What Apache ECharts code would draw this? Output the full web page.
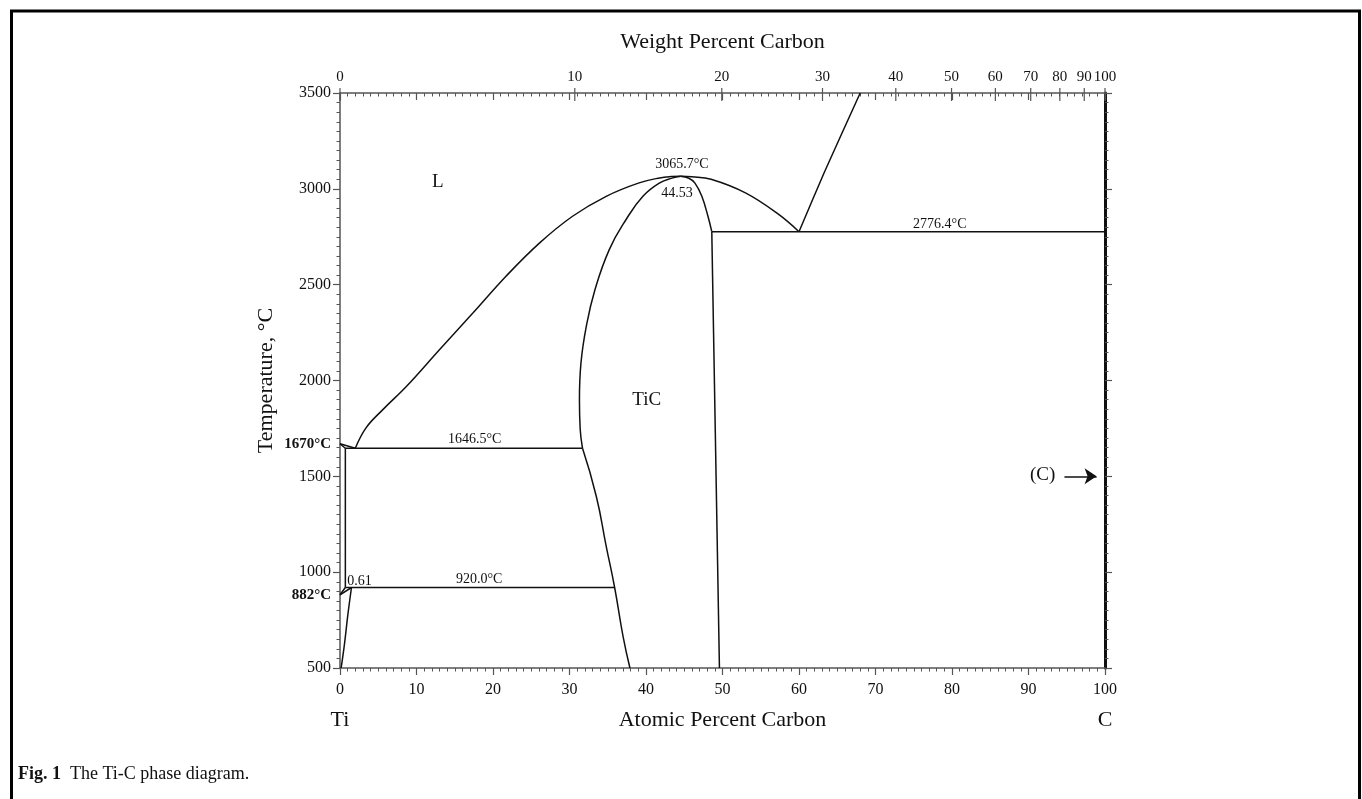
<!DOCTYPE html>
<html>
<head>
<meta charset="utf-8">
<script src="https://cdn.jsdelivr.net/npm/echarts@6/dist/echarts.min.js"></script>
<style>
html,body{margin:0;padding:0;background:#ffffff;}
#chart{width:1362px;height:799px;}
</style>
</head>
<body>
<div id="chart"></div>
<script>
// ---------- axes ----------
const atomicRange = [0, 100];          // atomic percent carbon (bottom & top scale)
const tempRange = [500, 3500];         // temperature, °C
const tempInterval = 500;
const atomicInterval = 10;
const weightLabels = [0, 10, 20, 30, 40, 50, 60, 70, 80, 90, 100]; // top axis (wt.% C)
const M_C = 12.011, M_TI = 47.867;
function wtToAt(w) {
  if (w >= 100) return 100;
  const c = w / M_C, t = (100 - w) / M_TI;
  return 100 * c / (c + t);
}

// ---------- phase boundaries: [atomic % C, °C] ----------
const betaLiquidus   = [[0, 1670], [2.0, 1646.5]];
const betaSolidus    = [[0, 1670], [0.7, 1646.5]];
const betaSolvus     = [[0.7, 1646.5], [0.7, 920]];
const betaTransus    = [[0, 882], [0.7, 920]];
const alphaTransus   = [[0, 882], [1.5, 920]];
const alphaSolvus    = [[1.5, 920], [1.0, 769], [0.6, 630], [0.15, 500]];
const eutectic1646   = [[0.7, 1646.5], [31.7, 1646.5]];
const peritectoid920 = [[0.7, 920], [35.9, 920]];
const liquidusLeft   = [[2.0, 1646.5], [3.4, 1753], [5.6, 1848], [8.7, 1970], [13.0, 2161],
                        [17.4, 2353], [21.7, 2544], [26.1, 2718], [30.4, 2857], [34.8, 2961],
                        [39.1, 3031], [41.8, 3057], [43.3, 3064], [44.53, 3065.7]];
const liquidusRight  = [[44.53, 3065.7], [46.0, 3063], [48.5, 3050], [53.0, 2979],
                        [57.3, 2868], [60.0, 2776.4]];
const graphiteLiquidus = [[60.0, 2776.4], [63.3, 3085], [68.0, 3500]];
const ticSolidusLeft = [[31.7, 1646.5], [31.4, 1744], [31.3, 1900], [31.5, 2092], [32.2, 2283],
                        [33.3, 2470], [35.2, 2683], [37.4, 2840], [39.6, 2961], [41.8, 3031],
                        [43.4, 3056], [44.53, 3065.7]];
const ticSolvusLeft  = [[31.7, 1646.5], [33.5, 1396], [34.8, 1135], [35.9, 920], [37.0, 665], [37.9, 500]];
const ticSolidusRight = [[44.53, 3065.7], [45.6, 3055], [46.4, 3030], [47.3, 2961], [48.1, 2857], [48.6, 2776.4]];
const ticSolvusRight = [[48.6, 2776.4], [49.6, 500]];
const eutectic2776   = [[48.6, 2776.4], [100, 2776.4]];

const boundaries = [
  [betaLiquidus, 0], [betaSolidus, 0], [betaSolvus, 0], [betaTransus, 0],
  [alphaTransus, 0], [alphaSolvus, 0.4], [eutectic1646, 0], [peritectoid920, 0],
  [liquidusLeft, 0.4], [liquidusRight, 0.4], [graphiteLiquidus, 0.2], [ticSolidusLeft, 0.45],
  [ticSolvusLeft, 0.5], [ticSolidusRight, 0.4], [ticSolvusRight, 0], [eutectic2776, 0]
];

// ---------- annotations: [atomic % C, °C, text] ----------
const regionLabels = [[12.8, 3034, 'L'], [40.1, 1897, 'TiC'], [91.85, 1505, '(C)']];
const valueLabels  = [[44.7, 3127, '3065.7°C'], [44.04, 2979, '44.53'], [78.4, 2813, '2776.4°C'],
                      [17.6, 1695, '1646.5°C'], [18.2, 961, '920.0°C'], [2.55, 952, '0.61']];
const pointLabels  = [[0, 1670, '1670°C'], [0, 882, '882°C']];
const elementLabels = [[0, 500, 'Ti'], [100, 500, 'C']];
const arrowC = [[94.7, 1500], [98.9, 1500]];

const FONT = '"Liberation Serif", "Times New Roman", serif';
const GREY = '#555555';

const chart = echarts.init(document.getElementById('chart'), null, {renderer: 'canvas'});

const lineSeries = boundaries.map(([pts, sm]) => ({
  type: 'line',
  data: pts,
  xAxisIndex: 0, yAxisIndex: 0,
  showSymbol: false, symbol: 'none',
  smooth: sm ? sm : false,
  lineStyle: {color: '#111', width: 1.5},
  silent: true, z: 3
}));

function textItem(p, text, size, opts) {
  return {
    type: 'text',
    style: Object.assign({
      text: text, x: p[0], y: p[1], align: 'center', verticalAlign: 'middle',
      font: size + 'px ' + FONT, fill: '#111'
    }, opts || {})
  };
}

const option = {
  animation: false,
  backgroundColor: '#ffffff',
  grid: {left: 340, top: 93, width: 765, height: 575, containLabel: false, outerBoundsMode: 'none'},
  xAxis: [
    {
      type: 'value', position: 'bottom', min: atomicRange[0], max: atomicRange[1], interval: atomicInterval,
      axisLine: {show: true, onZero: false, lineStyle: {color: GREY, width: 1.5}},
      axisTick: {show: true, length: 7, lineStyle: {color: GREY, width: 1.2}},
      minorTick: {show: true, splitNumber: 10, length: 3.5, lineStyle: {color: GREY, width: 1}},
      axisLabel: {color: '#111', fontFamily: FONT, fontSize: 16, margin: 14, formatter: v => String(v)},
      splitLine: {show: false},
      name: 'Atomic Percent Carbon', nameLocation: 'middle', nameGap: 41, nameMoveOverlap: false,
      nameTextStyle: {color: '#111', fontFamily: FONT, fontSize: 22}
    },
    {
      type: 'value', position: 'top', min: atomicRange[0], max: atomicRange[1], interval: atomicInterval,
      axisLine: {show: true, onZero: false, lineStyle: {color: GREY, width: 1.5}},
      axisTick: {show: true, inside: true, length: 7, lineStyle: {color: GREY, width: 1.2}},
      minorTick: {show: true, splitNumber: 10, length: 3.5, lineStyle: {color: GREY, width: 1}},
      axisLabel: {show: false},
      splitLine: {show: false},
      name: 'Weight Percent Carbon', nameLocation: 'middle', nameGap: 40, nameMoveOverlap: false,
      nameTextStyle: {color: '#111', fontFamily: FONT, fontSize: 22}
    }
  ],
  yAxis: [
    {
      type: 'value', position: 'left', min: tempRange[0], max: tempRange[1], interval: tempInterval,
      axisLine: {show: true, onZero: false, lineStyle: {color: GREY, width: 1.5}},
      axisTick: {show: true, length: 7, lineStyle: {color: GREY, width: 1.2}},
      minorTick: {show: true, splitNumber: 10, length: 3.5, lineStyle: {color: GREY, width: 1}},
      axisLabel: {color: '#111', fontFamily: FONT, fontSize: 16, margin: 9, formatter: v => String(v)},
      splitLine: {show: false},
      name: 'Temperature, °C', nameLocation: 'middle', nameGap: 63, nameRotate: 90, nameMoveOverlap: false,
      nameTextStyle: {color: '#111', fontFamily: FONT, fontSize: 22}
    },
    {
      type: 'value', position: 'right', min: tempRange[0], max: tempRange[1], interval: tempInterval,
      axisLine: {show: true, onZero: false, lineStyle: {color: '#111', width: 3}},
      axisTick: {show: true, length: 7, lineStyle: {color: GREY, width: 1.2}},
      minorTick: {show: true, splitNumber: 10, length: 3.5, lineStyle: {color: GREY, width: 1}},
      axisLabel: {show: false},
      splitLine: {show: false}
    }
  ],
  series: lineSeries.concat([
    {
      // weight-percent ticks and labels on the top scale
      type: 'custom', xAxisIndex: 0, yAxisIndex: 0, clip: false, silent: true, z: 5,
      data: weightLabels.map(w => [wtToAt(w), tempRange[1], w]),
      renderItem: function (params, api) {
        const p = api.coord([api.value(0), api.value(1)]);
        return {type: 'group', children: [
          {type: 'line', shape: {x1: p[0], y1: p[1] - 5, x2: p[0], y2: p[1] + 8},
           style: {stroke: GREY, lineWidth: 1.2}},
          textItem([p[0], p[1] - 8], String(api.value(2)), 15, {verticalAlign: 'bottom'})
        ]};
      }
    },
    {
      type: 'custom', xAxisIndex: 0, yAxisIndex: 0, clip: false, silent: true, z: 6,
      data: regionLabels,
      renderItem: (params, api) => textItem(api.coord([api.value(0), api.value(1)]), regionLabels[params.dataIndex][2], 19)
    },
    {
      type: 'custom', xAxisIndex: 0, yAxisIndex: 0, clip: false, silent: true, z: 6,
      data: valueLabels,
      renderItem: (params, api) => textItem(api.coord([api.value(0), api.value(1)]), valueLabels[params.dataIndex][2], 14)
    },
    {
      type: 'custom', xAxisIndex: 0, yAxisIndex: 0, clip: false, silent: true, z: 6,
      data: pointLabels,
      renderItem: (params, api) => {
        const p = api.coord([api.value(0), api.value(1)]);
        return textItem([p[0] - 9, p[1]], pointLabels[params.dataIndex][2], 15,
          {align: 'right', font: 'bold 15px ' + FONT});
      }
    },
    {
      type: 'custom', xAxisIndex: 0, yAxisIndex: 0, clip: false, silent: true, z: 6,
      data: elementLabels,
      renderItem: (params, api) => {
        const p = api.coord([api.value(0), api.value(1)]);
        return textItem([p[0], p[1] + 52], elementLabels[params.dataIndex][2], 22);
      }
    },
    {
      type: 'lines', coordinateSystem: 'cartesian2d', xAxisIndex: 0, yAxisIndex: 0, silent: true, z: 6,
      symbol: ['none', 'arrow'], symbolSize: 12,
      lineStyle: {color: '#111', width: 1.5, opacity: 1},
      data: [{coords: arrowC}]
    }
  ]),
  graphic: [
    {
      type: 'polyline', silent: true,
      shape: {points: [[11.5, 799], [11.5, 11], [1359.5, 11], [1359.5, 799]]},
      style: {stroke: '#000', lineWidth: 3, fill: null}
    },
    {
      type: 'text', left: 18, top: 765, silent: true,
      style: {
        text: '{b|Fig. 1}  The Ti-C phase diagram.',
        font: '18px ' + FONT, fill: '#111',
        rich: {b: {fontWeight: 'bold', fontSize: 18, fontFamily: FONT, fill: '#111'}}
      }
    }
  ]
};

chart.setOption(option);
</script>
</body>
</html>
